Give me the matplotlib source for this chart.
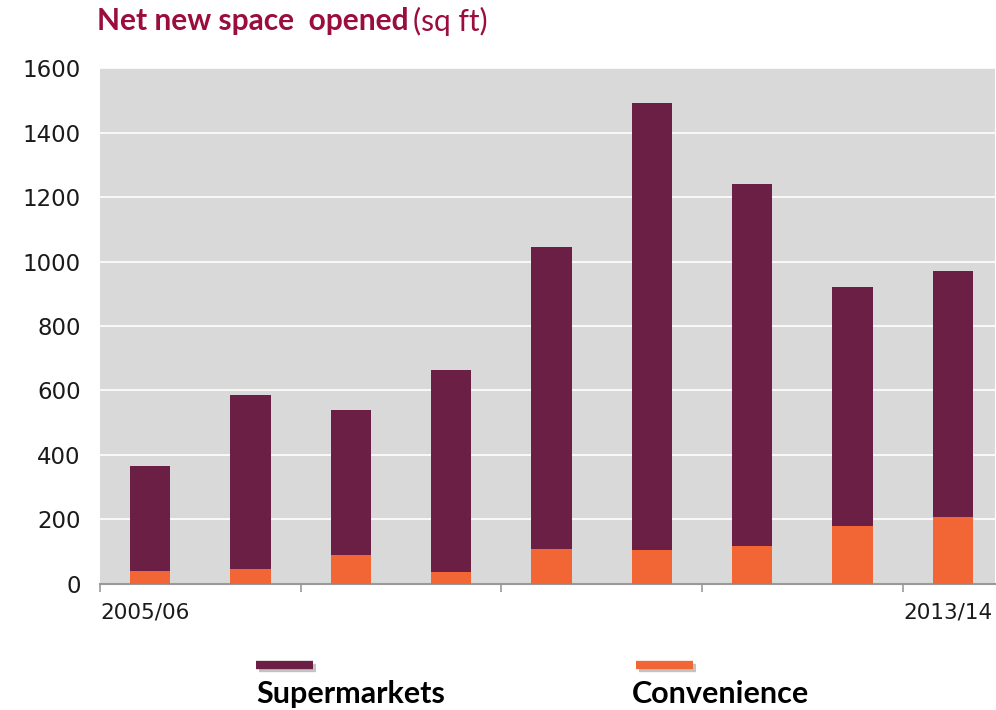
import numpy as np
import matplotlib.pyplot as plt
from matplotlib.lines import Line2D
import matplotlib.patheffects as pe

years = ['2005/06', '2006/07', '2007/08', '2008/09', '2009/10',
         '2010/11', '2011/12', '2012/13', '2013/14']
total = [365, 585, 540, 665, 1045, 1490, 1240, 920, 970]
convenience = [40, 46, 90, 37, 108, 105, 118, 180, 208]
supermarkets = [t - c for t, c in zip(total, convenience)]

purple = '#6c1f44'
orange = '#f26535'
title_red = '#9a0d3d'

fig = plt.figure(figsize=(9.96, 7.10), dpi=100)
ax = fig.add_axes([0.1004, 0.1775, 0.8986, 0.7267])
ax.set_facecolor('#d9d9d9')

x = np.arange(len(years))
ax.bar(x, convenience, width=0.4, color=orange, zorder=3)
ax.bar(x, supermarkets, width=0.4, bottom=convenience, color=purple, zorder=3)

ax.set_xlim(-0.5, 8.42)
ax.set_ylim(0, 1600)
ax.set_yticks(range(0, 1601, 200))
ax.yaxis.grid(True, color='white', linewidth=1.2, zorder=1)
ax.tick_params(axis='y', length=0, pad=14, labelsize=16.5, labelcolor='#1a1a1a')

# group ticks every two years, labels only at the ends
ax.set_xticks([-0.5, 1.5, 3.5, 5.5, 7.5])
ax.set_xticklabels([])
ax.tick_params(axis='x', length=6, color='#999999', width=1.2)
for side in ['top', 'right', 'left']:
    ax.spines[side].set_visible(False)
ax.spines['bottom'].set_color('#999999')
ax.spines['bottom'].set_linewidth(1.5)

ax.text(0.0, -0.055, years[0], transform=ax.transAxes, ha='left', va='center',
        fontsize=15.5, color='#1a1a1a')
ax.text(0.997, -0.055, years[-1], transform=ax.transAxes, ha='right', va='center',
        fontsize=15.5, color='#1a1a1a')

# title: bold part then unit in regular weight
t1 = fig.text(0.097, 0.97, 'Net new space  opened', fontsize=21.5, fontweight='bold',
              color=title_red, family='Lato', va='center')
fig.canvas.draw()
bb = t1.get_window_extent()
fig.text(bb.x1 / fig.bbox.width + 0.005, 0.97, '(sq ft)', fontsize=21.5,
         color=title_red, family='Lato', va='center')

# legend swatches with soft shadow
shadow = [pe.SimpleLineShadow(offset=(2, -2), shadow_color='#888888', alpha=0.5), pe.Normal()]
for x0, col, label, tx in [(0.257, purple, 'Supermarkets', 0.257),
                           (0.639, orange, 'Convenience', 0.634)]:
    fig.add_artist(Line2D([x0, x0 + 0.057], [0.063, 0.063], color=col, linewidth=6,
                          solid_capstyle='butt', transform=fig.transFigure,
                          path_effects=shadow))
    fig.text(tx, 0.022, label, fontsize=22, fontweight='bold', family='Lato',
             color='black', va='center')

fig.savefig('out.png', dpi=100)
